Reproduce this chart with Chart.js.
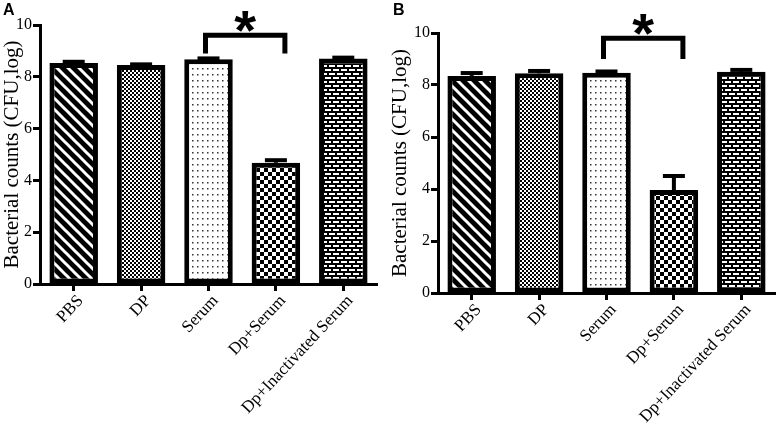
<!DOCTYPE html>
<html>
<head>
<meta charset="utf-8">
<script src="https://cdn.jsdelivr.net/npm/chart.js@4"></script>
<style>
  body { margin: 0; background: #fff; }
  #wrap { position: relative; width: 777px; height: 426px; overflow: hidden; }
  canvas { position: absolute; top: 0; }
  .tag { position: absolute; font: bold 16px "Liberation Sans", Arial, sans-serif; color: #000; }
</style>
</head>
<body>
<div id="wrap">
  <canvas id="chartA" width="388" height="426" style="left:0"></canvas>
  <canvas id="chartB" width="389" height="426" style="left:388px"></canvas>
  <div class="tag" style="left:3px;top:1px">A</div>
  <div class="tag" style="left:393px;top:1px">B</div>
</div>
<script>
var categories = [ "PBS", "DP", "Serum", "Dp+Serum", "Dp+Inactivated Serum" ];
var valuesA = [ 8.53, 8.46, 8.68, 4.68, 8.71 ];
var errorsA = [ 0.05, 0.02, 0.03, 0.1, 0.03 ];
var valuesB = [ 8.35, 8.45, 8.47, 3.96, 8.51 ];
var errorsB = [ 0.11, 0.09, 0.05, 0.54, 0.07 ];
var yTicks = [ 0, 2, 4, 6, 8, 10 ];
var yTitle = "Bacterial counts (CFU,log)";
// bracket: from category, to category, top value, leg end value
var bracketA = [ 2, 3, 9.6, 8.9 ];
var bracketB = [ 2, 3, 9.8, 9.0 ];

var serif = "'Liberation Serif', 'Times New Roman', serif";

var makePattern = function(kind) {
	var c = document.createElement('canvas');
	var g = c.getContext('2d');
	if (kind == 'stripes') {
		c.width = 11; c.height = 11;
		g.fillStyle = '#000'; g.fillRect(0, 0, 11, 11);
		g.strokeStyle = '#fff'; g.lineWidth = 3;
		for (var k = -1; k <= 1; k++) {
			g.beginPath(); g.moveTo(k * 11 - 2, -2); g.lineTo(k * 11 + 13, 13); g.stroke();
		}
	} else if (kind == 'fine') {
		c.width = 4; c.height = 4;
		g.fillStyle = '#fff'; g.fillRect(0, 0, 4, 4);
		g.fillStyle = '#000'; g.fillRect(0, 0, 2, 2); g.fillRect(2, 2, 2, 2);
	} else if (kind == 'dots') {
		c.width = 5; c.height = 6;
		g.fillStyle = '#fff'; g.fillRect(0, 0, 5, 6);
		g.fillStyle = '#333'; g.fillRect(2, 2, 1.5, 1.5);
	} else if (kind == 'checker') {
		c.width = 8; c.height = 8;
		g.fillStyle = '#fff'; g.fillRect(0, 0, 8, 8);
		g.fillStyle = '#000'; g.fillRect(0, 0, 4, 4); g.fillRect(4, 4, 4, 4);
	} else {
		c.width = 8; c.height = 8;
		g.fillStyle = '#000'; g.fillRect(0, 0, 8, 8);
		g.fillStyle = '#fff';
		g.fillRect(1, 1, 6, 2); g.fillRect(5, 5, 6, 2); g.fillRect(-3, 5, 6, 2);
	}
	return g.createPattern(c, 'repeat');
};

var errorBars = {
	id : 'errorBars',
	afterDatasetsDraw : function(chart, args, opts) {
		var ctx = chart.ctx, y = chart.scales.y;
		var meta = chart.getDatasetMeta(0);
		ctx.save();
		ctx.strokeStyle = '#000';
		ctx.lineWidth = 4;
		meta.data.forEach(function(bar, i) {
			var v = chart.data.datasets[0].data[i];
			var top = y.getPixelForValue(v + opts.errors[i]);
			ctx.beginPath(); ctx.moveTo(bar.x, y.getPixelForValue(v)); ctx.lineTo(bar.x, top); ctx.stroke();
			ctx.beginPath(); ctx.moveTo(bar.x - 11, top); ctx.lineTo(bar.x + 11, top); ctx.stroke();
		});
		ctx.restore();
	}
};

var bracket = {
	id : 'bracket',
	afterDraw : function(chart, args, opts) {
		var ctx = chart.ctx, x = chart.scales.x, y = chart.scales.y;
		var b = opts.spec;
		var x1 = x.getPixelForValue(b[0]) - 3, x2 = x.getPixelForValue(b[1]) + 9;
		var yt = y.getPixelForValue(b[2]), yl = y.getPixelForValue(b[3]);
		ctx.save();
		ctx.strokeStyle = '#000';
		ctx.lineWidth = 5;
		ctx.beginPath();
		ctx.moveTo(x1, yl); ctx.lineTo(x1, yt); ctx.lineTo(x2, yt); ctx.lineTo(x2, yl);
		ctx.stroke();
		ctx.fillStyle = '#000';
		ctx.font = "bold 56px 'Liberation Sans', Arial, sans-serif";
		ctx.textAlign = 'center';
		ctx.textBaseline = 'alphabetic';
		ctx.fillText('*', (x1 + x2) / 2, yt + 14);
		ctx.restore();
	}
};

var makeChart = function(id, values, errors, spec, yWidth, xHeight, pad) {
	var ctx = document.getElementById(id).getContext('2d');
	return new Chart(ctx, {
		type : 'bar',
		data : {
			labels : categories,
			datasets : [ {
				data : values,
				backgroundColor : [ makePattern('stripes'), makePattern('fine'),
						makePattern('dots'), makePattern('checker'), makePattern('brick') ],
				borderColor : '#000',
				borderWidth : 5,
				borderSkipped : false,
				barPercentage : 0.72,
				categoryPercentage : 1
			} ]
		},
		options : {
			responsive : false,
			animation : false,
			layout : { padding : pad },
			plugins : {
				legend : { display : false },
				tooltip : { enabled : false },
				errorBars : { errors : errors },
				bracket : { spec : spec }
			},
			scales : {
				x : {
					offset : true,
					grid : { offset : false, drawOnChartArea : false, drawTicks : true,
						tickLength : 7, tickWidth : 3, tickColor : '#000' },
					border : { color : '#000', width : 3 },
					ticks : { color : '#000', minRotation : 47, maxRotation : 47, padding : 0,
						labelOffset : 7, font : { family : serif, size : 17 } },
					afterFit : function(s) { s.height = xHeight; s.paddingLeft = 0; s.paddingRight = 0; }
				},
				y : {
					min : 0,
					max : 10,
					afterBuildTicks : function(s) { s.ticks = yTicks.map(function(v) { return { value : v }; }); },
					grid : { drawOnChartArea : false, drawTicks : true,
						tickLength : 7, tickWidth : 3, tickColor : '#000' },
					border : { color : '#000', width : 3 },
					ticks : { color : '#000', padding : 1, font : { family : serif, size : 16 } },
					title : { display : true, text : yTitle, color : '#000', padding : 0,
						font : { family : serif, size : 21 } },
					afterFit : function(s) { s.width = yWidth; s.paddingTop = 0; s.paddingBottom = 0; }
				}
			}
		},
		plugins : [ errorBars, bracket ]
	});
};

window.onload = function() {
	makeChart('chartA', valuesA, errorsA, bracketA, 40, 142, { top : 25, left : 0, right : 11, bottom : 0 });
	makeChart('chartB', valuesB, errorsB, bracketB, 50, 133, { top : 33, left : 0, right : 2, bottom : 0 });
};
</script>
</body>
</html>
